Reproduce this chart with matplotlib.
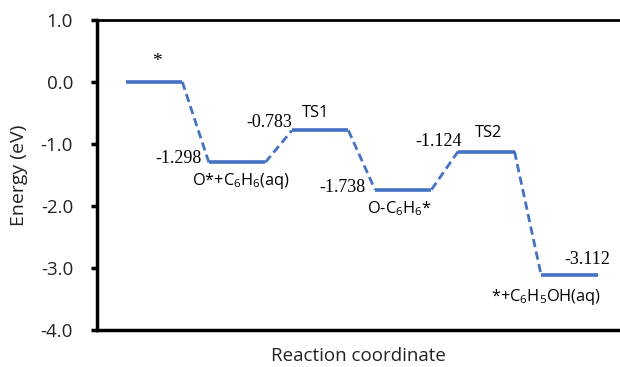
import matplotlib
matplotlib.use("Agg")
import matplotlib.pyplot as plt

plt.rcParams["font.family"] = ["Open Sans", "DejaVu Sans"]
plt.rcParams["mathtext.default"] = "regular"

# ── Data ──────────────────────────────────────────────
states = ["*", "O*+C$_6$H$_6$(aq)", "TS1", "O-C$_6$H$_6$*", "TS2", "*+C$_6$H$_5$OH(aq)"]
energies = [0.0, -1.298, -0.783, -1.738, -1.124, -3.112]
value_labels = ["", "-1.298", "-0.783", "-1.738", "-1.124", "-3.112"]
yticks = [1.0, 0.0, -1.0, -2.0, -3.0, -4.0]

color = "#4472C4"
w = 0.68  # width of each level
serif = ["Liberation Serif", "DejaVu Serif"]

fig = plt.figure(figsize=(6.2, 3.67), dpi=100)
ax = fig.add_axes([0.156, 0.101, 0.844, 0.845])

for i, e in enumerate(energies):
    ax.plot([i, i + w], [e, e], color=color, lw=2.6, solid_capstyle="butt")
    if i + 1 < len(energies):
        ax.plot([i + w, i + 1], [e, energies[i + 1]], color=color, lw=2.0,
                linestyle=(0, (3, 1.6)))

# state names: (x offset from level start, y offset from level)
name_off = {0: (0.37, 0.33), 1: (0.39, -0.30), 2: (0.29, 0.28),
            3: (0.29, -0.30), 4: (0.37, 0.30), 5: (0.06, -0.36)}
for i, (name, e) in enumerate(zip(states, energies)):
    dx, dy = name_off[i]
    if i == 0:
        ax.text(i + dx, e + dy, name, ha="center", va="center", fontsize=14,
                family=serif)
    else:
        ax.text(i + dx, e + dy, name, ha="center", va="center", fontsize=11.8)

# energy values (serif): (right edge offset, y offset)
val_off = {1: (-0.09, 0.07), 2: (0.01, 0.13), 3: (-0.12, 0.03),
           4: (0.05, 0.17), 5: (0.83, 0.25)}
for i, (lab, e) in enumerate(zip(value_labels, energies)):
    if not lab:
        continue
    dx, dy = val_off[i]
    ax.text(i + dx, e + dy, lab, ha="right", va="center", fontsize=13,
            family=serif)

ax.set_xlim(-0.35, 5.95)
ax.set_ylim(-4.0, 1.0)
ax.set_yticks(yticks)
ax.set_yticklabels([f"{t:.1f}" for t in yticks], fontsize=13.5, color="#222222")
ax.set_xticks([])
ax.tick_params(axis="y", direction="out", length=4, width=2.5, pad=13)
for s in ["left", "bottom"]:
    ax.spines[s].set_linewidth(2.5)
ax.spines["top"].set_linewidth(2.0)
ax.spines["right"].set_visible(False)

ax.set_ylabel("Energy (eV)", fontsize=14, labelpad=9, color="#222222")
ax.set_xlabel("Reaction coordinate", fontsize=13.5, labelpad=12, color="#222222")

fig.savefig("out.png", dpi=100)
